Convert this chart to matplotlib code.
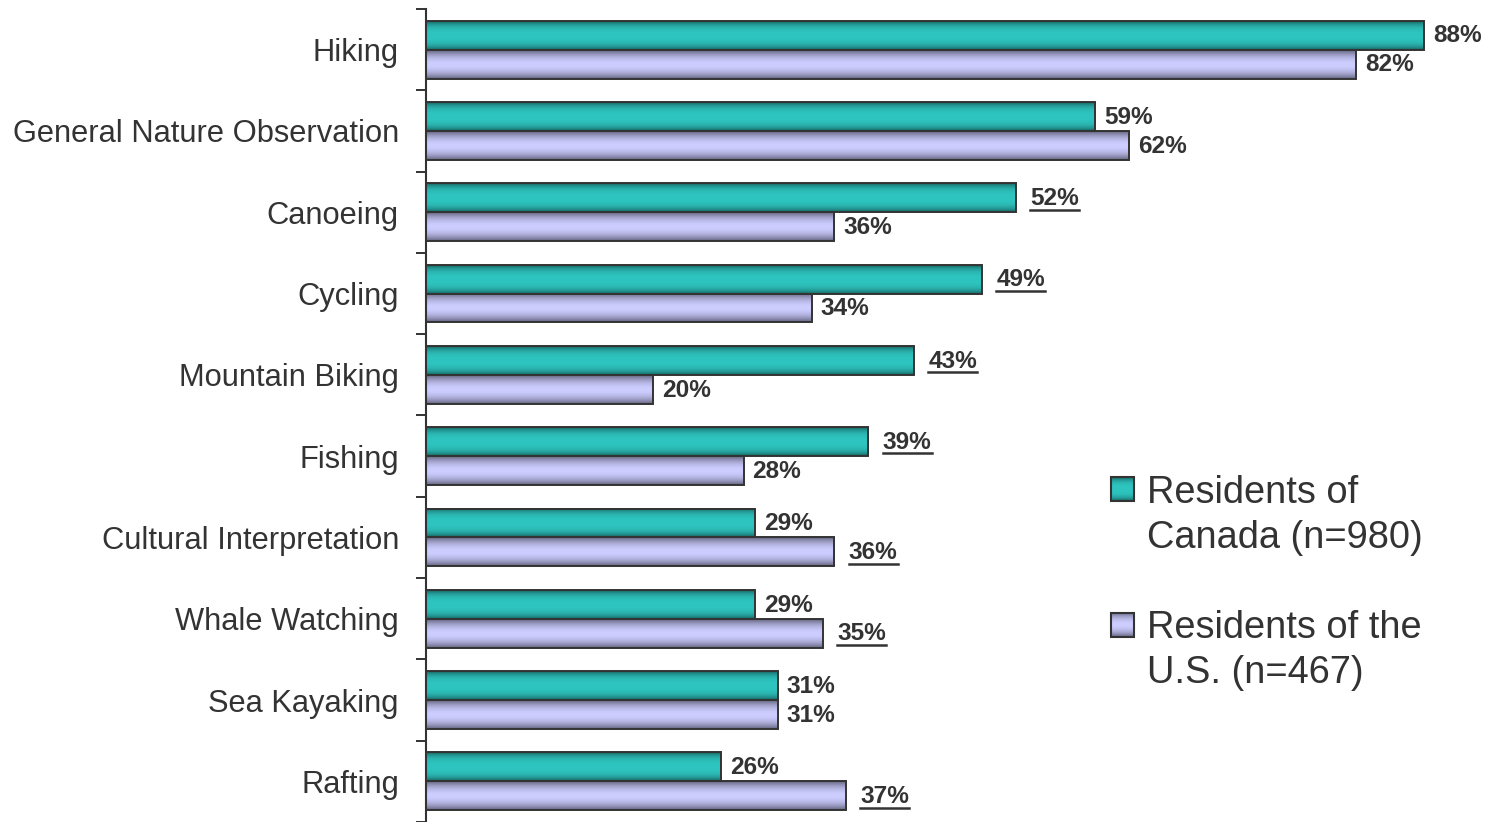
import numpy as np
import matplotlib
matplotlib.use("Agg")
import matplotlib.pyplot as plt
from matplotlib.colors import to_rgb
from matplotlib.lines import Line2D
from matplotlib.patches import Rectangle

plt.rcParams['font.family'] = ['Liberation Sans', 'DejaVu Sans']

# data
activities = ["Hiking", "General Nature Observation", "Canoeing", "Cycling",
              "Mountain Biking", "Fishing", "Cultural Interpretation",
              "Whale Watching", "Sea Kayaking", "Rafting"]
canada = [88, 59, 52, 49, 43, 39, 29, 29, 31, 26]
us = [82, 62, 36, 34, 20, 28, 36, 35, 31, 37]
# underlined (significantly higher) values
canada_sig = [False, False, True, True, True, True, False, False, False, False]
us_sig = [False, False, False, False, False, False, True, True, False, True]
series_names = ["Residents of\nCanada (n=980)", "Residents of the\nU.S. (n=467)"]

TXT = "#333333"
teal_dark, teal_light = "#176360", "#2ec4bf"
purp_dark, purp_light = "#63637f", "#cdcdff"


def gradient(dark, light, p, n=64):
    t = np.linspace(0, 1, n)
    f = 1 - np.abs(2 * t - 1) ** p
    d, l = np.array(to_rgb(dark)), np.array(to_rgb(light))
    return (d[None, :] * (1 - f[:, None]) + l[None, :] * f[:, None])[:, None, :]


teal_grad = gradient(teal_dark, teal_light, 3)
purp_grad = gradient(purp_dark, purp_light, 2)

W, H = 1489, 822
fig = plt.figure(figsize=(W / 100, H / 100), dpi=100)
ax = fig.add_axes([426 / W, 0, 1 - 426 / W, 1 - 9 / H])

y = np.arange(len(activities))
h = 0.356
XMAX = (W - 426) / 11.34

for vals, grad, off in [(canada, teal_grad, -h / 2), (us, purp_grad, h / 2)]:
    bars = ax.barh(y + off, vals, height=h, color="none", edgecolor="#333333",
                   linewidth=1.4, zorder=3)
    for b in bars:
        x0, y0 = b.get_x(), b.get_y()
        ax.imshow(grad, extent=[x0, x0 + b.get_width(), y0 + h, y0],
                  aspect="auto", interpolation="bilinear", zorder=2)

ax.set_xlim(0, XMAX)
ax.set_ylim(len(activities) - 0.5, -0.5)

for s in ["top", "right", "bottom"]:
    ax.spines[s].set_visible(False)
ax.spines["left"].set_color("#333333")
ax.spines["left"].set_linewidth(1.5)
ax.set_xticks([])
ax.set_yticks(np.arange(len(activities) + 1) - 0.5)
ax.set_yticklabels([])
ax.tick_params(axis="y", which="major", length=7.5, width=1.4, color="#333333")
ax.set_yticks(y, minor=True)
ax.set_yticklabels(activities, minor=True, fontsize=22.2, color=TXT)
ax.tick_params(axis="y", which="minor", length=0, pad=19.5)

# value labels
DY = 5.2
renderer = fig.canvas.get_renderer()
underlines = []
for vals, sig, off in [(canada, canada_sig, -h / 2), (us, us_sig, h / 2)]:
    for i, (v, s) in enumerate(zip(vals, sig)):
        dx = 10.5 if s else 6.5
        t = ax.annotate(f"{v}%", (v, i + off), xytext=(dx, -DY),
                        textcoords="offset points", va="baseline", ha="left",
                        fontsize=17.6, fontweight="bold", color=TXT, zorder=4)
        if s:
            underlines.append(t)

for t in underlines:
    bb = t.get_window_extent(renderer)
    xd, yd = ax.transData.transform(t.xy)
    yb = yd - DY * 100 / 72 - 4.5
    fig.add_artist(Line2D([bb.x0, bb.x1], [yb, yb], transform=None,
                          color=TXT, linewidth=1.8))

# legend
for k, (grad, name) in enumerate([(teal_grad, series_names[0]),
                                   (purp_grad, series_names[1])]):
    top = 477 + k * 136
    lax = fig.add_axes([1111 / W, 1 - (top + 24) / H, 23 / W, 24 / H])
    lax.imshow(grad, extent=[0, 1, 0, 1], aspect="auto", interpolation="bilinear")
    lax.add_patch(Rectangle((0, 0), 1, 1, fill=False, ec="#333333", lw=1.5,
                            transform=lax.transAxes, clip_on=False))
    lax.axis("off")
    for j, line in enumerate(name.split("\n")):
        fig.text(1147 / W, 1 - (503 + k * 135 + j * 45) / H, line,
                 fontsize=27.4, color=TXT, va="baseline", ha="left")

fig.savefig("out.png", dpi=100)
